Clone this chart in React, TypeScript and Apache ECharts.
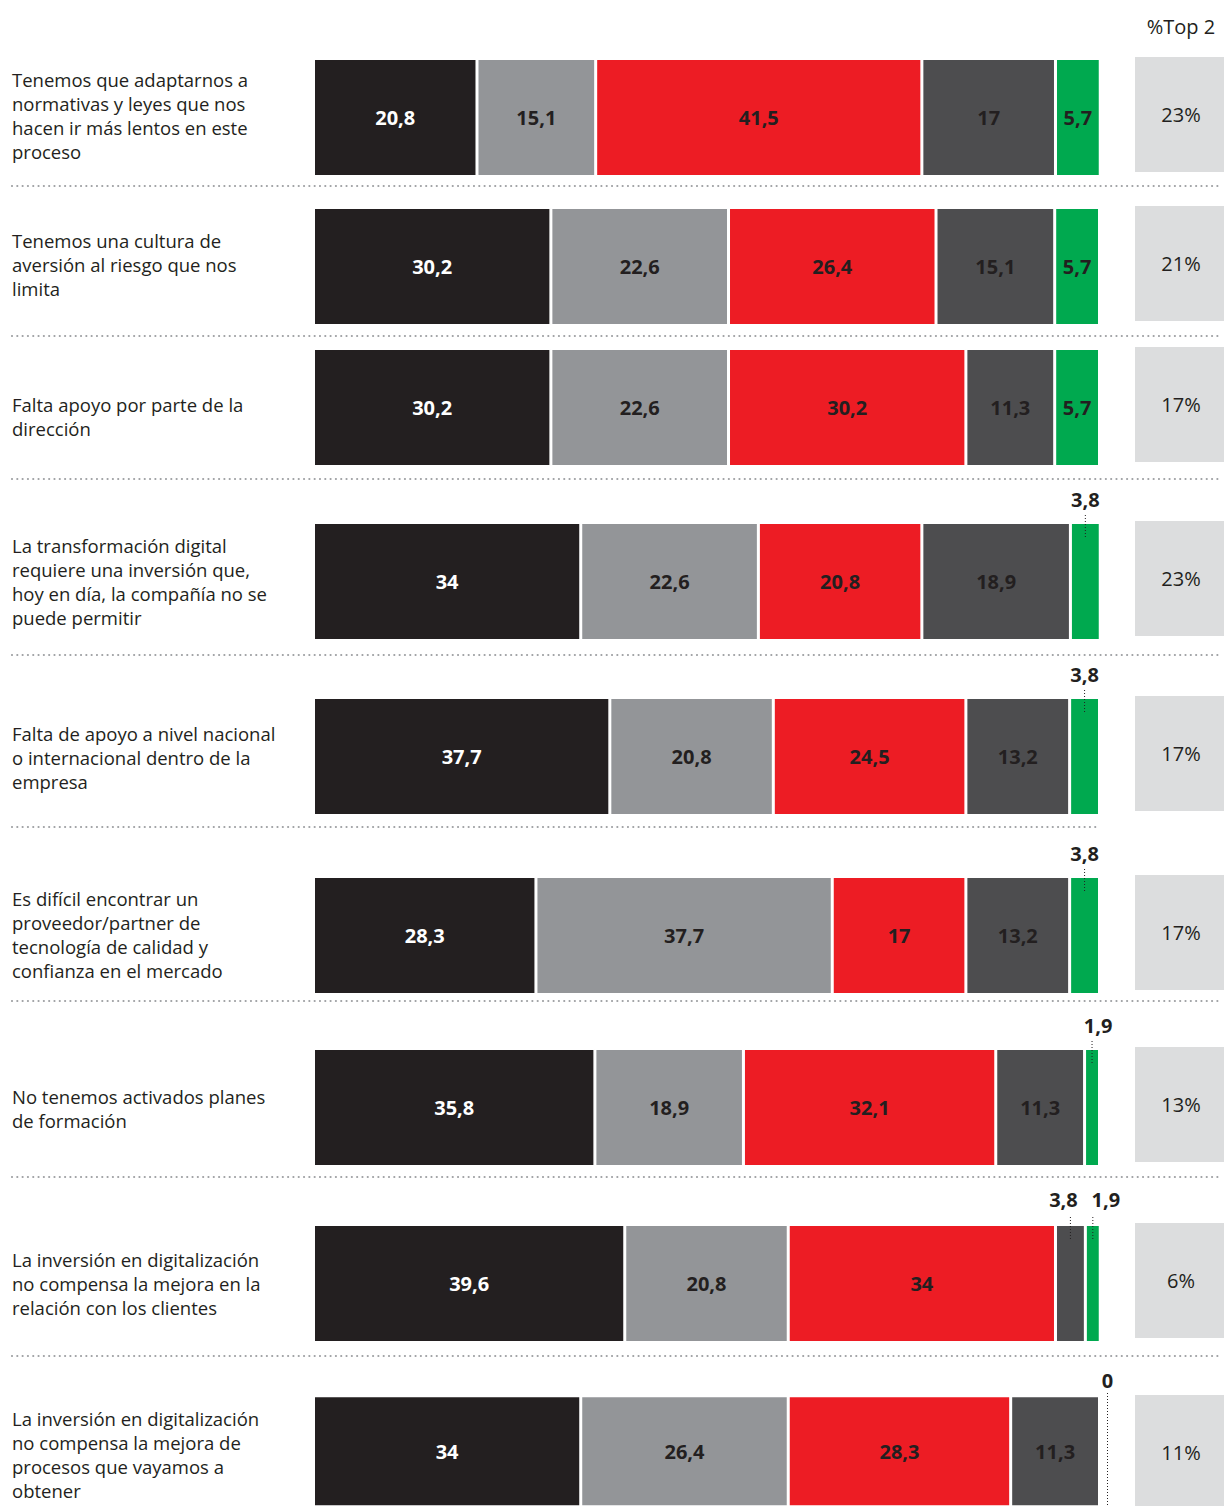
import React, { useEffect, useRef } from 'react';
import * as echarts from 'echarts';

const categories = [
  'Tenemos que adaptarnos a\nnormativas y leyes que nos\nhacen ir más lentos en este\nproceso',
  'Tenemos una cultura de\naversión al riesgo que nos\nlimita',
  'Falta apoyo por parte de la\ndirección',
  'La transformación digital\nrequiere una inversión que,\nhoy en día, la compañía no se\npuede permitir',
  'Falta de apoyo a nivel nacional\no internacional dentro de la\nempresa',
  'Es difícil encontrar un\nproveedor/partner de\ntecnología de calidad y\nconfianza en el mercado',
  'No tenemos activados planes\nde formación',
  'La inversión en digitalización\nno compensa la mejora en la\nrelación con los clientes',
  'La inversión en digitalización\nno compensa la mejora de\nprocesos que vayamos a\nobtener',
];

const seriesNames = ['1', '2', '3', '4', '5'];
const valores1 = [20.8, 30.2, 30.2, 34, 37.7, 28.3, 35.8, 39.6, 34];
const valores2 = [15.1, 22.6, 22.6, 22.6, 20.8, 37.7, 18.9, 20.8, 26.4];
const valores3 = [41.5, 26.4, 30.2, 20.8, 24.5, 17, 32.1, 34, 28.3];
const valores4 = [17, 15.1, 11.3, 18.9, 13.2, 13.2, 11.3, 3.8, 11.3];
const valores5 = [5.7, 5.7, 5.7, 3.8, 3.8, 3.8, 1.9, 1.9, 0];
const top2 = [23, 21, 17, 23, 17, 17, 13, 6, 11];
const top2Title = '%Top 2';

// layout / style (not data)
const COLORS = ['#231f20', '#939598', '#ed1c24', '#4d4d4f', '#00a94f'];
const LABEL_COLORS = ['#ffffff', '#231f20', '#231f20', '#231f20', '#231f20'];
const BAR_TOPS = [60, 209, 350, 524, 699, 878, 1050, 1226, 1398];
const BAR_H = 115;
const GAP = 3;
const GRID_LEFT = 315 - GAP / 2;
const GRID_WIDTH = 1098 + GAP / 2 - GRID_LEFT;
const SEPARATORS = [
  { y: 186, x2: 1222 },
  { y: 336, x2: 1222 },
  { y: 479, x2: 1222 },
  { y: 655, x2: 1222 },
  { y: 827, x2: 1098 },
  { y: 1001, x2: 1222 },
  { y: 1177, x2: 1222 },
  { y: 1356, x2: 1222 },
];
// vertical shift of category text relative to bar centre, per row
const TEXT_SHIFT = [-2, -2, 9, 0, 1, -1, 1, 0, 3];
// horizontal shift of outside labels for small segments: key "row-seg"
const SMALL_SHIFT: Record<string, number> = { '6-4': 6, '7-3': -7, '7-4': 13, '8-4': 8 };
const SMALL_DIST: Record<string, number> = { '7-3': 15, '7-4': 15, '8-4': 5 };
const FONT = '"Open Sans", "Noto Sans", sans-serif';
const TEXT = '#231f20';

const allValues = [valores1, valores2, valores3, valores4, valores5];
const fmt = (v: number) => String(v).replace('.', ',');

export default function App() {
  const ref = useRef<HTMLDivElement>(null);
  useEffect(() => {
    if (!ref.current) return;
    const chart = echarts.init(ref.current, undefined, { renderer: 'svg' });
    const grids: any[] = [];
    const xAxes: any[] = [];
    const yAxes: any[] = [];
    const series: any[] = [];
    categories.forEach((cat, i) => {
      grids.push({ left: GRID_LEFT, width: GRID_WIDTH, top: BAR_TOPS[i] - GAP / 2, height: BAR_H + GAP });
      xAxes.push({ type: 'value', gridIndex: i, min: 0, max: 100, show: false });
      yAxes.push({
        type: 'category',
        gridIndex: i,
        data: [cat],
        axisLine: { show: false },
        axisTick: { show: false },
        axisLabel: { show: false },
      });
      allValues.forEach((vals, j) => {
        const v = vals[i];
        const key = `${i}-${j}`;
        const item: any = { value: v };
        if (v < 5) {
          item.label = {
            position: 'top',
            distance: SMALL_DIST[key] ?? 13,
            offset: [SMALL_SHIFT[key] ?? 0, 0],
            color: TEXT,
          };
        }
        series.push({
          type: 'bar',
          name: seriesNames[j],
          xAxisIndex: i,
          yAxisIndex: i,
          stack: 'row' + i,
          barWidth: BAR_H + GAP,
          data: [item],
          itemStyle: { color: COLORS[j], borderColor: '#ffffff', borderWidth: GAP / 2 },
          label: {
            show: true,
            position: 'inside',
            formatter: (p: any) => fmt(p.value),
            color: LABEL_COLORS[j],
            fontSize: 20,
            fontWeight: 'bold',
            fontFamily: FONT,
          },
          silent: true,
        });
      });
    });

    chart.setOption({
      animation: false,
      grid: grids,
      xAxis: xAxes,
      yAxis: yAxes,
      series,
    });

    const graphic: any[] = [];
    graphic.push({
      type: 'text',
      x: 1181,
      y: 26,
      style: { text: top2Title, fontSize: 20, fontFamily: FONT, fill: TEXT, textAlign: 'center', textVerticalAlign: 'middle' },
    });
    // category texts, centred on each bar via the category axis
    categories.forEach((cat, i) => {
      const cy = chart.convertToPixel({ yAxisIndex: i }, 0) as number;
      graphic.push({
        type: 'text',
        x: 12,
        y: cy + TEXT_SHIFT[i],
        style: {
          text: cat,
          fontSize: 18.5,
          lineHeight: 24,
          fontFamily: FONT,
          fill: TEXT,
          textAlign: 'left',
          textVerticalAlign: 'middle',
        },
      });
    });
    SEPARATORS.forEach((s) => {
      graphic.push({
        type: 'line',
        shape: { x1: 12, y1: s.y, x2: s.x2, y2: s.y },
        style: { stroke: '#9d9fa2', lineWidth: 2.2, lineDash: [0.01, 5.3], lineCap: 'round' },
      });
    });
    top2.forEach((t, i) => {
      const y = BAR_TOPS[i] - 3;
      graphic.push({ type: 'rect', shape: { x: 1135, y, width: 89, height: BAR_H }, style: { fill: '#dcddde' } });
      graphic.push({
        type: 'text',
        x: 1181,
        y: y + BAR_H / 2,
        style: { text: t + '%', fontSize: 20, fontFamily: FONT, fill: TEXT, textAlign: 'center', textVerticalAlign: 'middle' },
      });
    });
    // leader lines for small segments
    categories.forEach((_, i) => {
      let cum = 0;
      allValues.forEach((vals, j) => {
        const v = vals[i];
        const start = cum;
        cum += v;
        if (v >= 5) return;
        const top = BAR_TOPS[i];
        let x: number;
        let y1: number;
        let y2: number;
        if (v === 0) {
          x = (chart.convertToPixel({ xAxisIndex: i }, start) as number) + 8;
          y1 = top - 5;
          y2 = top + BAR_H;
        } else {
          x = chart.convertToPixel({ xAxisIndex: i }, start + v / 2) as number;
          y1 = top - 9;
          y2 = top + 13;
        }
        graphic.push({
          type: 'line',
          z: 100,
          shape: { x1: x, y1, x2: x, y2 },
          style: { stroke: TEXT, lineWidth: 1, lineDash: [1, 2] },
        });
      });
    });
    chart.setOption({ graphic });

    return () => chart.dispose();
  }, []);
  return <div ref={ref} style={{ position: 'absolute', left: 0, top: 0, width: 1224, height: 1506 }} />;
}
